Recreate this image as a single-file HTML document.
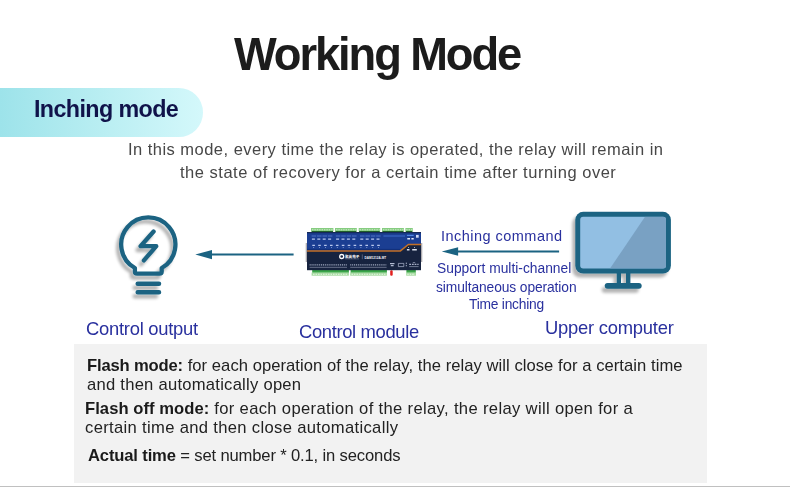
<!DOCTYPE html>
<html lang="en">
<head>
<meta charset="utf-8">
<title>Working Mode</title>
<style>
html,body{margin:0;padding:0;background:#fff;}
body{width:790px;height:488px;position:relative;overflow:hidden;font-family:"Liberation Sans","Noto Sans CJK SC",sans-serif;}
.t{position:absolute;white-space:nowrap;line-height:1;margin:0;will-change:transform;}
#title{left:234.3px;top:32.3px;font-size:45.3px;font-weight:bold;color:#1c1c1c;letter-spacing:-2.09px;}
#pill{position:absolute;left:0;top:88px;width:203px;height:48.5px;border-radius:0 24.25px 24.25px 0;background:linear-gradient(90deg,#9de3ea 0%,#b9eef2 50%,#d4f8fb 100%);}
#pilltxt{left:34.2px;top:98px;font-size:23.3px;font-weight:bold;color:#10134a;letter-spacing:-0.6px;}
.p{color:#474747;font-size:16.5px;}
#p1{left:128.3px;top:140.8px;letter-spacing:0.47px;}
#p2{left:180.2px;top:164px;letter-spacing:0.51px;}
.lbl{color:#29309e;font-size:18.4px;}
#l1{left:86.1px;top:319.5px;letter-spacing:-0.26px;}
#l2{left:298.6px;top:322.5px;letter-spacing:-0.35px;}
#l3{left:545px;top:319.2px;letter-spacing:-0.23px;}
.sm{color:#29309e;font-size:13.8px;}
#cmd{left:441.2px;top:229.3px;font-size:14.5px;color:#29309e;letter-spacing:0.47px;}
#s1{left:436.7px;top:262.2px;}
#s2{left:435.5px;top:281.1px;letter-spacing:-0.1px;}
#s3{left:469.2px;top:298px;letter-spacing:-0.23px;}
#box{position:absolute;left:74px;top:343.7px;width:632.8px;height:139px;background:#f2f2f2;}
.b{color:#222;font-size:16.6px;}
.b b{font-weight:bold;color:#1a1a1a;}
#b1 b{letter-spacing:-0.16px;}
#b3 b{letter-spacing:0.05px;}
#b1{left:87.3px;top:357.6px;letter-spacing:0.05px;}
#b2{left:87.1px;top:376.7px;letter-spacing:0.25px;}
#b3{left:85.1px;top:400.7px;letter-spacing:0.34px;}
#b4{left:84.9px;top:419.5px;letter-spacing:0.33px;}
#b5{left:88.3px;top:447.5px;letter-spacing:-0.15px;}
#hr{position:absolute;left:0;top:485.8px;width:790px;height:1.3px;background:#c0c0c0;}
svg{position:absolute;left:0;top:0;}
</style>
</head>
<body>

<svg id="art" width="790" height="488" viewBox="0 0 790 488">
<defs>
<filter id="sh" x="-20%" y="-20%" width="140%" height="140%">
<feGaussianBlur in="SourceAlpha" stdDeviation="1.8"/>
<feOffset dx="-3.5" dy="4"/>
<feComponentTransfer><feFuncA type="linear" slope="0.3"/></feComponentTransfer>
<feMerge><feMergeNode/><feMergeNode in="SourceGraphic"/></feMerge>
</filter>
<clipPath id="scr"><rect x="580.2" y="216.7" width="85.8" height="51.9" rx="3"/></clipPath>
</defs>
<!-- bulb -->
<g id="bulb" filter="url(#sh)" fill="none" stroke="#1b6382" stroke-width="4.3" stroke-linecap="round" stroke-linejoin="round">
<path d="M134.9 268 A27.1 27.1 0 1 1 161.7 268 V271.5 Q161.7 273.7 159.5 273.7 H137.1 Q134.9 273.7 134.9 271.5 Z"/>
<path d="M153.6 231.5 L140.6 246.2 H156.3 L143.9 260.4"/>
<path d="M137.7 283.8 H159 M137.7 292.2 H159" stroke-width="4.5"/>
</g>
<!-- arrows -->
<g id="arrL"><path d="M293.6 254.6 H210" stroke="#1b6382" stroke-width="2" fill="none"/><path d="M195.3 254.6 L212 250 V259.2 Z" fill="#1b6382"/></g>
<g id="arrR"><path d="M559.1 251.5 H456" stroke="#1b6382" stroke-width="2" fill="none"/><path d="M441.8 251.5 L458.1 247.2 V255.7 Z" fill="#1b6382"/></g>
<!-- monitor -->
<g id="mon" filter="url(#sh)">
<rect x="575.3" y="211.8" width="95.6" height="61.7" rx="8" fill="#1b6382"/>
<rect x="580.2" y="216.7" width="85.8" height="51.9" rx="3" fill="#92bfe3"/>
<path d="M645 216.7 H666 V268.6 H610 Z" fill="#79a1c3" clip-path="url(#scr)"/>
<rect x="616.7" y="272" width="4.3" height="12" fill="#1b6382"/>
<rect x="626" y="272" width="4.4" height="12" fill="#1b6382"/>
<rect x="604.7" y="282.9" width="37" height="5.8" rx="2.9" fill="#1b6382"/>
</g>
<!-- module -->
<g id="mod">
<rect x="305.7" y="243" width="116.6" height="19" fill="#aeacb0"/>
<g fill="#86cc80">
<rect x="311" y="228" width="22.4" height="3.4"/><rect x="335" y="228" width="21.8" height="3.4"/><rect x="358.7" y="228" width="21.5" height="3.4"/><rect x="382" y="228" width="21.9" height="3.4"/><rect x="405.4" y="228" width="7.4" height="3.4"/>
</g>
<g fill="#1f5f2a">
<rect x="311.6" y="231" width="21.4" height="1.5"/><rect x="335.4" y="231" width="21" height="1.5"/><rect x="359.1" y="231" width="20.7" height="1.5"/><rect x="382.4" y="231" width="21.1" height="1.5"/><rect x="405.8" y="231" width="6.6" height="1.5"/>
</g>
<path d="M312 229.7 H333 M336 229.7 H356.4 M359.6 229.7 H379.8 M383 229.7 H403.4 M406.2 229.7 H412.2" stroke="#e4f5e1" stroke-width="1.1" stroke-dasharray="1.4 1" opacity="0.75" fill="none"/>
<g fill="#3aa548">
<rect x="312.2" y="270" width="36.7" height="2.8"/><rect x="350.6" y="270" width="36.3" height="2.8"/><rect x="406.4" y="270" width="9.4" height="2.8"/>
</g>
<g fill="#a6dba0">
<rect x="311.6" y="272.6" width="37.3" height="3.1"/><rect x="350.2" y="272.6" width="36.7" height="3.1"/><rect x="406.2" y="272.6" width="9.8" height="3.1"/>
</g>
<path d="M313 274.2 H348 M351.4 274.2 H386 M407.2 274.2 H415" stroke="#f3fbf2" stroke-width="1.1" stroke-dasharray="1.6 0.9" opacity="0.85" fill="none"/>
<rect x="390.2" y="270.3" width="2.5" height="5.5" rx="1.1" fill="#e3201f"/>
<rect x="307" y="232.2" width="114" height="38" fill="#17233f"/>
<path d="M307 232.2 H421 V244.4 H408.4 L400.4 250.8 H307 Z" fill="#1b3e92"/>
<path d="M307 232.7 H421" stroke="#14254f" stroke-width="1" fill="none"/>
<path d="M307 249.4 H400" stroke="#12307a" stroke-width="1" fill="none"/>
<path d="M307 250.9 H400.4 L408.4 244.5 H421" fill="none" stroke="#c26f27" stroke-width="1.5"/>
<g stroke="#5d80d4" stroke-width="1" fill="none" opacity="0.8">
<path d="M311.6 236 H332.4 M335.8 236 H356.6 M360 236 H380.6" stroke-dasharray="4.6 0.8"/>
</g>
<path d="M383.4 236 H405" stroke="#2f58b3" stroke-width="1.8" fill="none"/>
<g stroke="#b9c8ee" stroke-width="1.25" fill="none">
<path d="M311.9 239.2 H333" stroke-dasharray="3 2.4"/><path d="M336.1 239.2 H357" stroke-dasharray="3 2.4"/><path d="M360.3 239.2 H381" stroke-dasharray="3 2.4"/>
<path d="M312.3 245.3 H380.5" stroke-dasharray="2.6 3.3"/>
<path d="M313.3 247.5 H380.5" stroke-dasharray="0.8 5.1" stroke-width="0.9" opacity="0.8"/>
</g>
<path d="M406.9 235.4 H413.7" stroke="#4f86e6" stroke-width="1.2" fill="none"/>
<path d="M407.3 238.7 H410 M411.4 238.7 H413.7" stroke="#e6ecfa" stroke-width="1.5" fill="none"/>
<rect x="416" y="234.9" width="2.7" height="2.8" fill="#cfdaf5"/>
<path d="M406.9 249.7 H409.5 M412.2 249.7 H416.8" stroke="#dde3f0" stroke-width="1.4" fill="none"/>
<path d="M408 247.5 H408.9 M414 247.5 H414.9" stroke="#dde3f0" stroke-width="0.8" fill="none"/>
<circle cx="341.7" cy="256.5" r="2" fill="none" stroke="#fff" stroke-width="1.3"/>
<text x="345" y="258" font-size="3.6" font-weight="bold" fill="#fff" font-family="'Liberation Sans','Noto Sans CJK SC',sans-serif">聚英电子</text>
<path d="M345.2 258.9 H359" stroke="#9aa6c0" stroke-width="0.4" fill="none"/>
<path d="M362.3 254.4 V259.2" stroke="#8a95b0" stroke-width="0.5" fill="none"/>
<text x="364.6" y="258.6" font-size="3.3" font-weight="bold" fill="#f2f4fa" font-family="'Liberation Sans',sans-serif" textLength="21.5" lengthAdjust="spacingAndGlyphs">DAM1212A-MT</text>
<g stroke="#c3cbe0" fill="none">
<path d="M309.6 264.8 H347 M350.2 264.8 H386.6" stroke-width="1.3" stroke-dasharray="1.1 0.8" opacity="0.8"/>
<path d="M309.6 267.3 H347 M350.2 267.3 H386.6" stroke-width="0.6" opacity="0.8"/>
<path d="M390 263.6 H394.5 M390.8 265.6 H393.6" stroke-width="1.2" opacity="0.9"/>
<path d="M398.4 263.4 H403.8 V266.6 H398.4 Z" stroke-width="0.7" opacity="0.9"/>
<path d="M406.3 262.6 V267" stroke-width="0.9" stroke-dasharray="1.4 0.9" opacity="0.9"/>
<path d="M409.2 264.4 H418.6" stroke-width="1.1" stroke-dasharray="1.8 0.9" opacity="0.85"/>
<path d="M409.2 266.6 H418.6" stroke-width="0.6" opacity="0.85"/>
<path d="M412.8 262.6 H415.2" stroke-width="0.7" opacity="0.85"/>
</g>
</g>

</svg>
<div id="title" class="t">Working Mode</div>
<div id="pill"></div>
<div id="pilltxt" class="t">Inching mode</div>
<div id="p1" class="t p">In this mode, every time the relay is operated, the relay will remain in</div>
<div id="p2" class="t p">the state of recovery for a certain time after turning over</div>

<div id="cmd" class="t">Inching command</div>
<div id="s1" class="t sm">Support multi-channel</div>
<div id="s2" class="t sm">simultaneous operation</div>
<div id="s3" class="t sm">Time inching</div>

<div id="l1" class="t lbl">Control output</div>
<div id="l2" class="t lbl">Control module</div>
<div id="l3" class="t lbl">Upper computer</div>

<div id="box"></div>
<div id="b1" class="t b"><b>Flash mode:</b> for each operation of the relay, the relay will close for a certain time</div>
<div id="b2" class="t b">and then automatically open</div>
<div id="b3" class="t b"><b>Flash off mode:</b> for each operation of the relay, the relay will open for a</div>
<div id="b4" class="t b">certain time and then close automatically</div>
<div id="b5" class="t b"><b>Actual time</b> = set number * 0.1, in seconds</div>
<div id="hr"></div>
</body>
</html>
